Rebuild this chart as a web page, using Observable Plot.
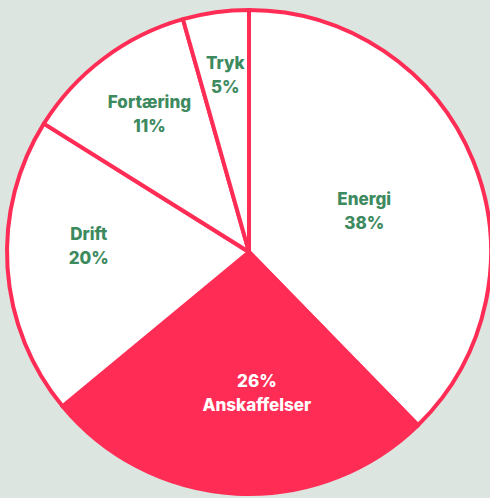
<!DOCTYPE html>
<html>
<head>
<meta charset="utf-8">
<script src="https://cdn.jsdelivr.net/npm/d3@7"></script>
<script src="https://cdn.jsdelivr.net/npm/@observablehq/plot@0.6"></script>
<style>
  html, body { margin: 0; padding: 0; background: #dce5e0; }
  #chart { width: 490px; height: 498px; }
</style>
</head>
<body>
<div id="chart"></div>
<script>
const categories = ["Energi", "Anskaffelser", "Drift", "Fortæring", "Tryk"];
const sliceValues = [37.7, 26.3, 19.9, 11.7, 4.4];
const percentLabels = ["38%", "26%", "20%", "11%", "5%"];
const highlighted = ["Anskaffelser"];

const RED = "#ff2d55";
const GREEN = "#3d8a5f";
const BG = "#dce5e0";
const W = 490, H = 498, CX = 249, CY = 252, R = 242;

// per-label pixel nudges (style), applied on top of the computed anchor
const labelNudge = {
  "Energi": [1, 3],
  "Anskaffelser": [15, -4],
  "Drift": [-6, -18],
  "Fortæring": [2, -4],
  "Tryk": [1, 2]
};

const data = categories.map((name, i) => ({
  name, value: sliceValues[i], pct: percentLabels[i], hi: highlighted.includes(name)
}));
const total = d3.sum(sliceValues);
const arcs = d3.pie().sort(null).value(d => d.value)(data);

// label anchor on the slice bisector (data units, unit radius)
const labels = arcs.map(a => {
  const mid = (a.startAngle + a.endAngle) / 2;
  const frac = a.data.value / total;
  const r = 0.79 - 0.75 * frac;
  return {
    ...a.data,
    x: Math.sin(mid) * r,
    y: Math.cos(mid) * r,
    text: a.data.hi ? `${a.data.pct}\n${a.data.name}` : `${a.data.name}\n${a.data.pct}`
  };
});

function pieMark(index, scales) {
  const x = scales.x, y = scales.y;
  const rad = x(1) - x(0);
  const g = d3.create("svg:g").attr("transform", `translate(${x(0)},${y(0)})`);
  const arc = d3.arc().innerRadius(0).outerRadius(rad);
  g.selectAll("path").data(arcs).join("path")
    .attr("d", arc)
    .attr("fill", d => d.data.hi ? RED : "#ffffff")
    .attr("stroke", RED)
    .attr("stroke-width", 4)
    .attr("stroke-linejoin", "round");
  return g.node();
}

const labelMarks = categories.map(name => Plot.text(labels, {
  filter: d => d.name === name,
  x: "x", y: "y", text: "text",
  dx: labelNudge[name][0], dy: labelNudge[name][1],
  fill: d => d.hi ? "#ffffff" : GREEN,
  fontSize: 17, fontWeight: 800, lineHeight: 24 / 17,
  textAnchor: "middle"
}));

const chart = Plot.plot({
  width: W,
  height: H,
  margin: 0,
  style: { background: BG, fontFamily: "Inter, sans-serif" },
  x: { domain: [-CX / R, (W - CX) / R], range: [0, W], axis: null },
  y: { domain: [-(H - CY) / R, CY / R], range: [H, 0], axis: null },
  marks: [pieMark, ...labelMarks]
});
document.getElementById("chart").appendChild(chart);
</script>
</body>
</html>
